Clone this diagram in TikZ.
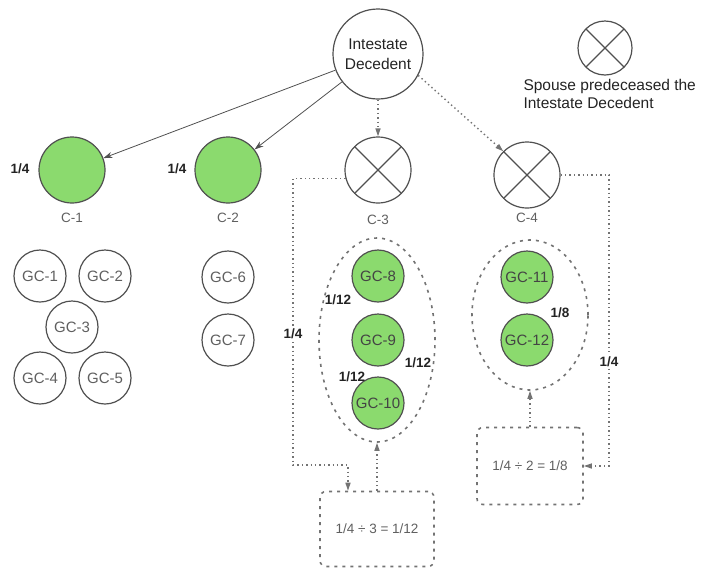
\documentclass[tikz,border=0pt]{standalone}
\usepackage{fontspec}
\setmainfont{Liberation Sans}
\usepackage{tikz}
\definecolor{heirGreen}{RGB}{139, 218, 110}
\definecolor{heirLine} {RGB}{ 80,  80,  80}
\definecolor{heirDot}  {RGB}{115, 115, 115}
\definecolor{heirGrey} {RGB}{ 95,  95,  95}
\definecolor{heirInk}  {RGB}{ 35,  35,  35}
\usetikzlibrary{
  arrows.meta,
  shapes.geometric,
}

\begin{document}
\begin{tikzpicture}[
  x=1pt, y=-1pt,
  >=Stealth,
  person/.style={circle, draw=heirLine, line width=1.2pt, inner sep=0pt,
                 minimum size=66pt, align=center,
                 font=\fontsize{15.5}{20}\selectfont, text=heirInk},
  heir/.style={person, fill=heirGreen},
  gone/.style={person,
               path picture={\draw[heirLine, line width=1.2pt]
                 (path picture bounding box.north west) -- (path picture bounding box.south east)
                 (path picture bounding box.south west) -- (path picture bounding box.north east);}},
  grand/.style={circle, draw=heirLine, line width=1.2pt, inner sep=0pt,
                minimum size=52pt, font=\fontsize{15}{17}\selectfont,
                text=heirGrey},
  ggreen/.style={grand, fill=heirGreen, text=heirInk!85},
  cname/.style={font=\fontsize{13.5}{16}\selectfont, text=heirGrey},
  part/.style={font=\bfseries\fontsize{13.5}{16}\selectfont, text=heirInk,
               inner sep=1pt},
  family/.style={ellipse, draw=heirDot, line width=1.6pt, inner sep=0pt,
                 dash pattern=on 3pt off 5pt},
  split/.style={draw=heirDot, line width=1.6pt, dash pattern=on 3pt off 5pt,
                rounded corners=6pt, font=\fontsize{13.5}{16}\selectfont,
                text=heirGrey},
  descent/.style={draw=heirLine, line width=0.8pt,
                  -{Stealth[length=9pt, width=6pt]}},
  pass/.style={draw=heirDot, line width=1.4pt, dash pattern=on 1.4pt off 3pt,
               -{Triangle[length=8pt, width=5pt]}},
]
  \useasboundingbox (0,0) rectangle (703,571);

  % top: the decedent and the legend
  \node[person, minimum size=90pt] (id) at (378, 54) {Intestate\\Decedent};
  \node[gone, minimum size=54pt] (key) at (605, 48) {};
  \node[anchor=west, align=left, font=\fontsize{15.5}{18}\selectfont,
        text=heirInk] (keytxt) at (520, 94) {Spouse predeceased the\\Intestate Decedent};

  % children
  \node[heir] (c1) at ( 72, 170) {};
  \node[heir] (c2) at (228, 170) {};
  \node[gone] (c3) at (378, 170) {};
  \node[gone] (c4) at (527, 175) {};
  \node[cname] (c1n) at ( 72, 218) {C-1};
  \node[cname] (c2n) at (228, 218) {C-2};
  \node[cname] (c3n) at (378, 220) {C-3};
  \node[cname] (c4n) at (527, 218) {C-4};
  \node[part]  (c1s) at ( 20, 169) {1/4};
  \node[part]  (c2s) at (177, 169) {1/4};

  % grandchildren of C-1 and C-2
  \node[grand] (gc1) at ( 40, 276) {GC-1};
  \node[grand] (gc2) at (105, 276) {GC-2};
  \node[grand] (gc3) at ( 72, 327) {GC-3};
  \node[grand] (gc4) at ( 40, 378) {GC-4};
  \node[grand] (gc5) at (105, 378) {GC-5};
  \node[grand] (gc6) at (228, 277) {GC-6};
  \node[grand] (gc7) at (228, 340) {GC-7};

  % grandchildren who take by representation
  \node[family, minimum width=116pt, minimum height=204pt] (fam3) at (377, 340) {};
  \node[family, minimum width=116pt, minimum height=150pt] (fam4) at (530, 315) {};
  \node[ggreen] (gc8)  at (378, 276) {GC-8};
  \node[ggreen] (gc9)  at (378, 340) {GC-9};
  \node[ggreen] (gc10) at (378, 403) {GC-10};
  \node[ggreen] (gc11) at (527, 277) {GC-11};
  \node[ggreen] (gc12) at (527, 340) {GC-12};
  \node[part] (gc8s)  at (338, 300) {1/12};
  \node[part] (gc9s)  at (418, 363) {1/12};
  \node[part] (gc10s) at (352, 377) {1/12};
  \node[part] (gc12s) at (560, 313) {1/8};

  % how the shares are split
  \node[split, minimum width=114pt, minimum height=75pt] (box3) at (377, 529) {1/4 ÷ 3 = 1/12};
  \node[split, minimum width=106pt, minimum height=77pt] (box4) at (530, 466) {1/4 ÷ 2 = 1/8};

  \coordinate (c3turn) at (293, 465);
  \coordinate (c4turn) at (609, 466);

  \draw[descent] (id) -- (c1);
  \draw[descent] (id) -- (c2);
  \draw[pass] (id) -- (c3);
  \draw[pass] (id.-28) -- (c4.north west);
  \draw[pass] (c3.195) -| (c3turn)
      node[part, fill=white, pos=0.77] {1/4}
      -| ([xshift=-29pt]box3.north);
  \draw[pass] (c4.east) -| (c4turn)
      node[part, fill=white, pos=0.82] {1/4}
      -- (box4.east);
  \draw[pass] (box3.north) -- (fam3.south);
  \draw[pass] (box4.north) -- (fam4.south);
\end{tikzpicture}
\end{document}
